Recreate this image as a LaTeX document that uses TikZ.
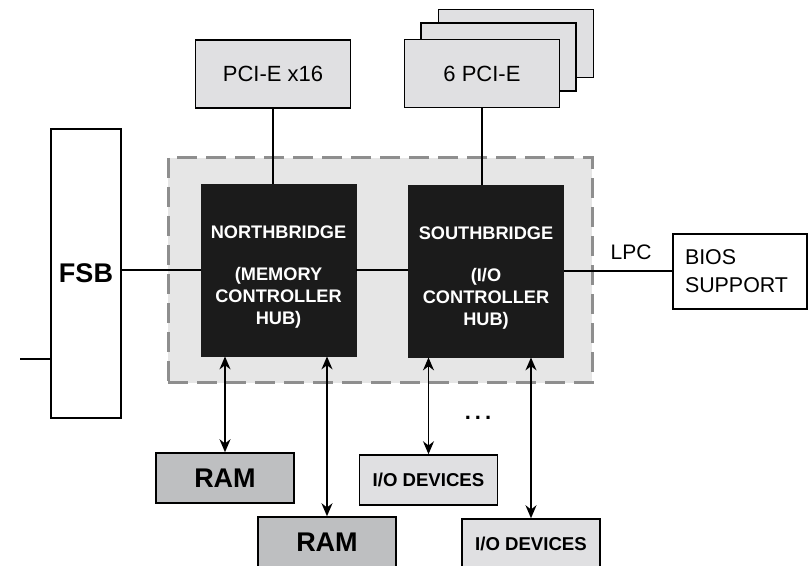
\documentclass[tikz,border=0pt]{standalone}
\usepackage{fontspec}
\setmainfont{Liberation Sans}
\usetikzlibrary{arrows.meta,positioning}
\definecolor{cardgray}{HTML}{E0E0E2}
\definecolor{ramgray}{HTML}{BEBFC1}
\definecolor{hubgray}{HTML}{E6E6E6}
\definecolor{dashgray}{HTML}{8E8E8E}
\definecolor{chipblack}{HTML}{1B1B1B}
\tikzset{
  hw/hub/.style={draw=dashgray, fill=hubgray, line width=1.5pt, dash pattern=on 10pt off 4.5pt, minimum width=212pt, minimum height=112.5pt, inner sep=0pt},
  hw/chip/.style={draw=chipblack, fill=chipblack, text=white, font=\bfseries\fontsize{9.1}{11}\selectfont, align=center, minimum width=77.5pt, minimum height=86pt, inner sep=0pt},
  hw/bus/.style={draw, line width=0.75pt, fill=white, font=\bfseries\fontsize{13.5}{15}\selectfont, minimum width=35pt, minimum height=144.5pt, inner sep=0pt},
  hw/card/.style={draw, line width=0.75pt, fill=cardgray, font=\fontsize{11}{13}\selectfont, minimum width=77.5pt, minimum height=34pt, inner sep=0pt},
  hw/ram/.style={draw, line width=0.75pt, fill=ramgray, font=\bfseries\fontsize{13.5}{15}\selectfont, minimum width=69pt, minimum height=25pt, inner sep=0pt},
  hw/io/.style={hw/ram, fill=cardgray, font=\bfseries\fontsize{9.3}{11}\selectfont},
  hw/bios/.style={draw, line width=0.75pt, fill=white, font=\fontsize{10.7}{14}\selectfont, align=left, text width=55pt, inner xsep=6pt, minimum height=37.5pt},
  wire/.style={line width=1pt},
  arr/.style={{Stealth[length=6.5pt,width=5.5pt]}-{Stealth[length=6.5pt,width=5.5pt]}, line width=0.75pt}
}
\begin{document}
\begin{tikzpicture}[x=0.5pt, y=-0.5pt]
\clip (0,0) rectangle (811,566);
\node[hw/hub] (hub) at (380,270.5) {};
\node[hw/bus] (fsb) at (86,273.5) {FSB};
\node[hw/chip] (nb) at (278.5,270) {\rule{0pt}{13pt}NORTHBRIDGE\\[10pt](MEMORY\\CONTROLLER\\HUB)};
\node[hw/chip] (sb) at (486,271) {\rule{0pt}{13pt}SOUTHBRIDGE\\[10pt](I/O\\CONTROLLER\\HUB)};
\node[hw/card] (pcix) at (273,74) {PCI-E x16};
% stacked cards behind the front one
\node[hw/card] (pci3) at (516,43.5) {};
\node[hw/card] (pci2) at (498.5,57) {};
\node[hw/card] (pci) at (482,73.5) {6 PCI-E};
\node[hw/bios] (bios) at (740,271.5) {BIOS\\SUPPORT};
\node[hw/ram] (ram1) at (225,478) {RAM};
\node[hw/ram] (ram2) at (327,542) {RAM};
\node[hw/io] (io1) at (428.5,480) {I/O DEVICES};
\node[hw/io] (io2) at (531,544) {I/O DEVICES};
\node[font=\bfseries\fontsize{11}{11}\selectfont] (dots) at (478,418) {.\kern2pt.\kern2pt.};
\coordinate (fsbin) at (20,359);
\draw[wire] (fsbin) -- (fsbin -| fsb.west);
\draw[wire] (fsb.east |- nb.west) -- (nb.west);
\draw[wire] (nb.east) -- (nb.east -| sb.west);
\draw[wire] (sb.east) -- node[above=2pt, pos=0.62, font=\fontsize{10.5}{12}\selectfont] (lpc) {LPC} (sb.east -| bios.west);
\draw[wire] (pcix.south) -- (pcix.south |- nb.north);
\draw[wire] (pci.south) -- (pci.south |- sb.north);
\draw[arr] (ram1.north |- nb.south) -- (ram1.north);
\draw[arr] (ram2.north |- nb.south) -- (ram2.north);
\draw[arr] (io1.north |- sb.south) -- (io1.north);
\draw[arr] (io2.north |- sb.south) -- (io2.north);
\end{tikzpicture}
\end{document}
